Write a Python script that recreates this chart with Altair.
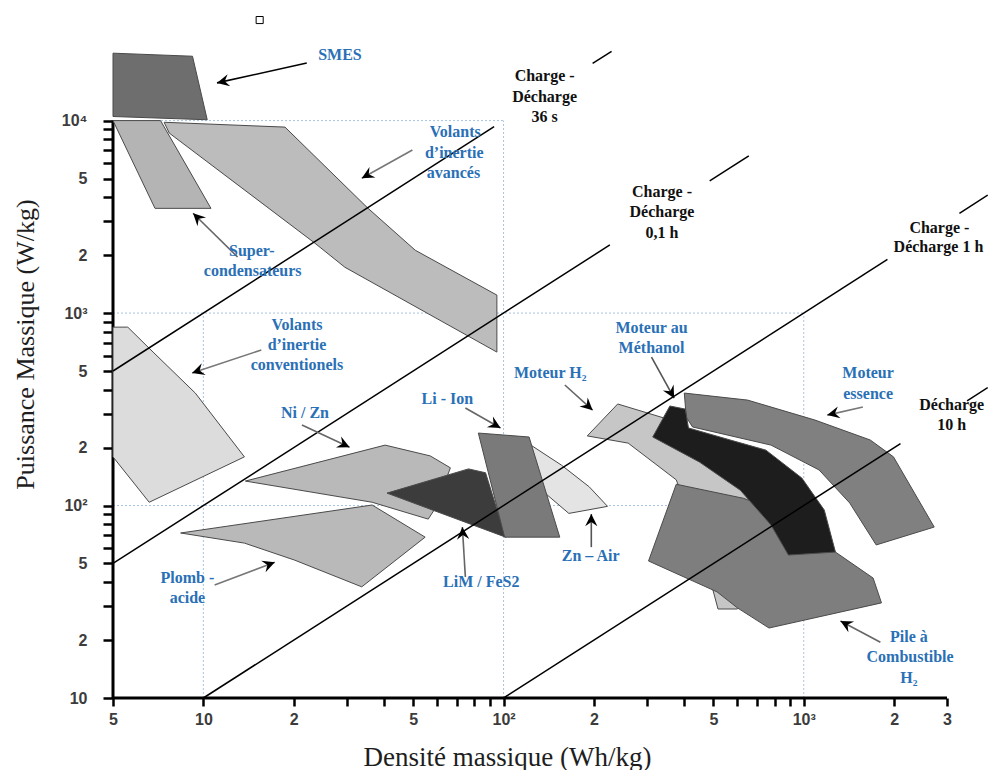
import math
import pandas as pd
import altair as alt

# ---------------- axes ----------------
X_DOMAIN = [5, 3000]
Y_DOMAIN = [10, 25000]
W, H = 834, 654

X_TICKS = [5, 10, 20, 30, 40, 50, 60, 70, 80, 90, 100, 200, 300, 400, 500, 600, 700, 800, 900, 1000, 2000, 3000]
X_LABELS = {5: "5", 10: "10", 20: "2", 50: "5", 100: "10²", 200: "2", 500: "5", 1000: "10³", 2000: "2", 3000: "3"}
Y_TICKS = [10, 20, 30, 40, 50, 60, 70, 80, 90, 100, 200, 300, 400, 500, 600, 700, 800, 900,
           1000, 2000, 3000, 4000, 5000, 6000, 7000, 8000, 9000, 10000]
Y_LABELS = {10: "10", 20: "2", 50: "5", 100: "10²", 200: "2", 500: "5", 1000: "10³", 2000: "2", 5000: "5", 10000: "10⁴"}

# ---------------- regions (E Wh/kg, P W/kg) ----------------
VOLANTS_CONV = [(5, 845), (5.6, 845), (6.8, 627), (9.4, 384), (13.7, 179), (6.6, 104), (5, 179)]
SUPERCAPS = [(5, 10000), (7.2, 10000), (10.6, 3500), (6.9, 3500)]
VOLANTS_AV = [(7.4, 9800), (18.7, 9250), (35.3, 3510), (50.8, 2120), (95, 1240), (95, 627),
              (29.6, 1730), (23.5, 2310), (7.7, 8610)]
SMES = [(5, 22400), (9.2, 21600), (10.3, 10100), (5, 10500)]
PLOMB = [(8.4, 72), (36.5, 100.6), (54.8, 68.5), (33.7, 37.8), (20.1, 52.1), (13.7, 63.8)]
NIZN = [(13.8, 134), (40.3, 206), (57, 181), (66.5, 157), (59.3, 97), (56.1, 85), (36.5, 104)]
LIM = [(40.9, 116), (76.4, 155), (87.1, 148), (101.6, 68.5)]
ZNAIR = [(121.6, 209), (156, 162), (193, 125), (222, 99), (165, 91), (134, 120), (110, 183)]
LIION = [(82.4, 238), (121.6, 227), (153.9, 68.5), (100.8, 68.5)]
MOTEUR_H2 = [(190, 230), (240, 337), (342, 285), (569, 194), (910, 107), (841, 52), (601, 29),
             (518, 29), (450, 66), (376, 136), (260, 211)]
PILE_H2 = [(376, 129), (630, 109), (985, 84.1), (1275, 57.3), (1702, 42), (1815, 31.2), (766, 23.1),
           (601, 29.4), (514, 35.6), (304, 51.5)]
ESSENCE = [(400, 384), (650, 353), (1090, 278), (1665, 219), (1990, 179), (2720, 77.3), (1743, 62.4),
           (1423, 103), (1125, 153), (778, 206), (426, 256), (406, 288)]
METHANOL = [(314, 227), (358, 329), (403, 317), (413, 253), (569, 219), (748, 194), (985, 139),
            (1170, 94.8), (1275, 57.3), (889, 55.3), (778, 79.2), (615, 120), (450, 168)]

REGIONS = [
    (VOLANTS_CONV, "#dcdcdc"),
    (SUPERCAPS, "#b4b4b4"),
    (VOLANTS_AV, "#bcbcbc"),
    (SMES, "#6e6e6e"),
    (PLOMB, "#b9b9b9"),
    (NIZN, "#b9b9b9"),
    (LIM, "#3c3c3c"),
    (ZNAIR, "#e4e4e4"),
    (LIION, "#7a7a7a"),
    (MOTEUR_H2, "#c6c6c6"),
    (PILE_H2, "#7e7e7e"),
    (ESSENCE, "#808080"),
    (METHANOL, "#1d1d1d"),
]

# constant-time lines: (E1, P1, E2, P2)
TIME_LINES = [
    (5, 500, 93, 9300), (198, 19800, 229, 22900),          # 36 s
    (5, 50, 226, 2260), (486, 4860, 656, 6560),            # 0,1 h
    (10, 10, 1900, 1900), (3300, 3300, 4100, 4100),        # 1 h
    (100, 10, 2100, 210), (3500, 350, 4100, 410),          # 10 h
]

# dotted grid: (E1, P1, E2, P2)
GRID = [
    (5, 10000, 100, 10000), (5, 1000, 1000, 1000), (5, 100, 1000, 100),
    (10, 10, 10, 1000), (100, 10, 100, 10000), (1000, 10, 1000, 1000),
]

# arrows: tail E, tail P, head E, head P, shaft colour
ARROWS = [
    (22.1, 19900, 11.1, 15700, "#000000"),
    (49.7, 7030, 33.7, 5020, "#777777"),
    (13.0, 1955, 9.24, 3300, "#666666"),
    (15.6, 643, 9.17, 488, "#777777"),
    (21.3, 262, 30.7, 201, "#666666"),
    (10.9, 38.6, 17.3, 50.8, "#777777"),
    (74.6, 321, 97.7, 253, "#666666"),
    (74.6, 42.5, 72.9, 77.3, "#666666"),
    (196, 60.8, 196, 90.4, "#555555"),
    (160, 423, 198, 313, "#666666"),
    (311, 590, 370, 361, "#555555"),
    (1574, 325, 1197, 295, "#777777"),
    (1800, 19.5, 1325, 25.1, "#666666"),
]

BLUE_LABELS = [
    ("SMES", 28.5, 21900), ("Volants", 69, 8710), ("d’inertie", 68.5, 6770), ("avancés", 68.1, 5340),
    ("Super-", 14.5, 2100), ("condensateurs", 14.6, 1650),
    ("Volants", 20.5, 867), ("d’inertie", 20.5, 682), ("conventionels", 20.5, 537),
    ("Ni / Zn", 21.8, 303), ("Plomb -", 8.85, 42), ("acide", 8.85, 33),
    ("Li - Ion", 65, 357), ("LiM / FeS2", 84.3, 40.1), ("Zn – Air", 195, 54.7),
    ("Moteur H₂", 143, 488), ("Moteur au", 311, 835), ("Méthanol", 311, 658),
    ("Moteur", 1638, 488), ("essence", 1638, 379),
    ("Pile à", 2240, 20.8), ("Combustible", 2260, 16.3), ("H₂", 2240, 12.7),
]
BLACK_LABELS = [
    ("Charge -", 137, 17000), ("Décharge", 137, 13200), ("36 s", 137, 10400),
    ("Charge -", 337, 4260), ("Décharge", 337, 3350), ("0,1 h", 337, 2610),
    ("Charge -", 2830, 2770), ("Décharge 1 h", 2810, 2200),
    ("Décharge", 3110, 333), ("10 h", 3110, 262),
]
MARKER = [(15.4, 33300)]

# ---------------- scales / axes ----------------
XS = alt.Scale(type="log", domain=X_DOMAIN, nice=False)
YS = alt.Scale(type="log", domain=Y_DOMAIN, nice=False)


def label_expr(mapping):
    parts = [f"datum.value == {k} ? '{v}'" for k, v in mapping.items()]
    return " : ".join(parts) + " : ''"


XAX = alt.Axis(values=X_TICKS, labelExpr=label_expr(X_LABELS), title="Densité massique (Wh/kg)",
               domain=False, grid=False, tickSize=8, tickWidth=2.5, tickColor="black",
               labelFont="Liberation Sans", labelFontSize=16, labelFontWeight="bold", labelColor="#3c3c3c",
               labelPadding=5, labelOverlap=False, labelFlush=False,
               titleFont="Liberation Serif", titleFontSize=27, titleFontWeight="normal", titleColor="#1e1e1e",
               titleX=394, titleY=67, titleAlign="center", titleBaseline="alphabetic")
YAX = alt.Axis(values=Y_TICKS, labelExpr=label_expr(Y_LABELS), title="Puissance Massique (W/kg)",
               domain=False, grid=False, tickSize=10, tickWidth=2.5, tickColor="black",
               labelFont="Liberation Sans", labelFontSize=16, labelFontWeight="bold", labelColor="#3c3c3c",
               labelPadding=16, labelOverlap=False, labelFlush=False,
               titleFont="Liberation Serif", titleFontSize=26, titleFontWeight="normal", titleColor="#1e1e1e",
               titleAngle=270, titleX=-88, titleY=300, titleAlign="center", titleBaseline="middle")


def enc(chart, with2=False):
    kw = dict(x=alt.X("E:Q", scale=XS, axis=XAX), y=alt.Y("P:Q", scale=YS, axis=YAX))
    if with2:
        kw["x2"] = alt.X2("E2:Q")
        kw["y2"] = alt.Y2("P2:Q")
    return chart.encode(**kw)


def seg_df(rows):
    return pd.DataFrame(rows, columns=["E", "P", "E2", "P2"])


layers = []

# grid
layers.append(enc(alt.Chart(seg_df(GRID)).mark_rule(color="#a8c4e0", strokeWidth=1, strokeDash=[2, 2]), True))

# axis lines
AXIS_LINES = [(5, 10, 3000, 10), (5, 10, 5, 10000)]
layers.append(enc(alt.Chart(seg_df(AXIS_LINES)).mark_rule(color="black", strokeWidth=3), True))

# regions
for pts, fill in REGIONS:
    df = pd.DataFrame({"E": [p[0] for p in pts], "P": [p[1] for p in pts], "i": list(range(len(pts)))})
    layers.append(enc(alt.Chart(df).mark_line(interpolate="linear-closed", fill=fill, stroke="#4a4a4a",
                                               strokeWidth=1)).encode(order="i:Q"))

# constant time lines
layers.append(enc(alt.Chart(seg_df(TIME_LINES)).mark_rule(color="black", strokeWidth=1.5), True))

# arrows
XPX = W / (math.log10(X_DOMAIN[1]) - math.log10(X_DOMAIN[0]))
YPX = H / (math.log10(Y_DOMAIN[1]) - math.log10(Y_DOMAIN[0]))
shafts = pd.DataFrame([(a[0], a[1], a[2], a[3], a[4]) for a in ARROWS], columns=["E", "P", "E2", "P2", "c"])
heads = []
for te, tp, he, hp, _ in ARROWS:
    dx = (math.log10(he) - math.log10(te)) * XPX
    dy = -(math.log10(hp) - math.log10(tp)) * YPX
    heads.append((he, hp, math.degrees(math.atan2(dy, dx)) % 360))
heads = pd.DataFrame(heads, columns=["E", "P", "ang"])
layers.append(enc(alt.Chart(shafts).mark_rule(strokeWidth=1.6), True).encode(color=alt.Color("c:N", scale=None)))
layers.append(enc(alt.Chart(heads).mark_point(shape="M0,0L-1,-0.5L-0.65,0L-1,0.5Z", filled=True, size=600,
                                              color="black", opacity=1)).encode(angle=alt.Angle("ang:Q", scale=None)))

# labels
blue = pd.DataFrame(BLUE_LABELS, columns=["t", "E", "P"])
black = pd.DataFrame(BLACK_LABELS, columns=["t", "E", "P"])
layers.append(enc(alt.Chart(blue).mark_text(font="Liberation Serif", fontSize=16, fontWeight="bold",
                                            color="#2a70b6", align="center", baseline="middle")).encode(text="t:N"))
layers.append(enc(alt.Chart(black).mark_text(font="Liberation Serif", fontSize=16, fontWeight="bold",
                                             color="#111111", align="center", baseline="middle")).encode(text="t:N"))
marker = pd.DataFrame(MARKER, columns=["E", "P"])
layers.append(enc(alt.Chart(marker).mark_point(shape="square", filled=False, size=50, color="black",
                                              strokeWidth=1, opacity=1)))

chart = alt.layer(*layers).properties(
    width=W, height=H,
    autosize=alt.AutoSizeParams(type="none"),
    padding={"left": 105, "top": 36, "right": 41, "bottom": 72},
    background="white",
).configure_view(stroke=None)

chart.save("out.html", embed_options={"renderer": "svg", "actions": False})
